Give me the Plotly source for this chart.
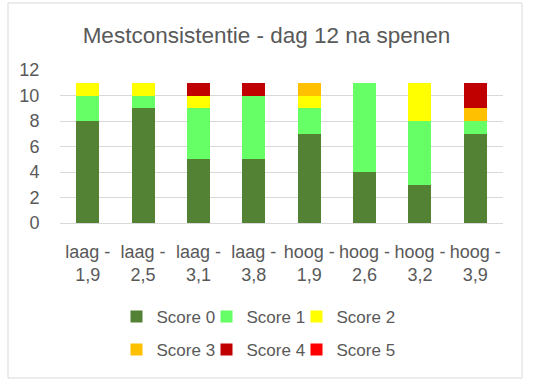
import plotly.graph_objects as go

categories = ["laag -<br>1,9", "laag -<br>2,5", "laag -<br>3,1", "laag -<br>3,8",
              "hoog -<br>1,9", "hoog -<br>2,6", "hoog -<br>3,2", "hoog -<br>3,9"]
score0 = [8, 9, 5, 5, 7, 4, 3, 7]
score1 = [2, 1, 4, 5, 2, 7, 5, 1]
score2 = [1, 1, 1, 0, 1, 0, 3, 0]
score3 = [0, 0, 0, 0, 1, 0, 0, 1]
score4 = [0, 0, 1, 1, 0, 0, 0, 2]
score5 = [0, 0, 0, 0, 0, 0, 0, 0]
series_names = ["Score 0", "Score 1", "Score 2", "Score 3", "Score 4", "Score 5"]
series_values = [score0, score1, score2, score3, score4, score5]
colors = ["#548235", "#66FF66", "#FFFF00", "#FFC000", "#C00000", "#FF0000"]

FONT = "Liberation Sans"
GREY = "#595959"

W, H = 533, 389
L, R, T, B = 60, 30, 70, 166
pw, ph = W - L - R, H - T - B

def px_x(x):
    return (x - L) / pw

def px_y(y):
    return (H - B - y) / ph

# legend text start columns (px) and row centres (px)
text_cols = [158, 248, 338]
rows = [317, 350]

fig = go.Figure()
legends = {}
for i, (name, vals, col) in enumerate(zip(series_names, series_values, colors)):
    key = "legend" if i == 0 else f"legend{i + 1}"
    fig.add_trace(go.Bar(
        x=categories, y=vals, name=name, marker=dict(color=col, line=dict(width=0)),
        legend=key, showlegend=True,
    ))
    legends[key] = dict(orientation="h", x=px_x(text_cols[i % 3] - 41.5), xanchor="left",
                        y=px_y(rows[i // 3]), yanchor="middle",
                        font=dict(size=17, color=GREY), itemclick=False,
                        bgcolor="rgba(0,0,0,0)")

fig.update_layout(
    width=W, height=H,
    margin=dict(l=L, r=R, t=T, b=B, autoexpand=False),
    showlegend=True,
    barmode="stack", bargap=0.585,
    plot_bgcolor="white", paper_bgcolor="white",
    font=dict(family=FONT, color=GREY),
    title=dict(text="Mestconsistentie - dag 12 na spenen", x=0.5, xanchor="center",
               y=1 - 35 / H, yanchor="middle", font=dict(size=22.5, color=GREY, family=FONT)),
    xaxis=dict(showgrid=False, showline=False, ticks="outside", ticklen=12,
               tickcolor="rgba(0,0,0,0)", tickfont=dict(size=18, color=GREY),
               fixedrange=True),
    yaxis=dict(range=[0, 12], dtick=2, showgrid=True, gridcolor="#D9D9D9", gridwidth=1,
               zeroline=True, zerolinecolor="#D9D9D9", zerolinewidth=1,
               tickfont=dict(size=18, color=GREY), ticks="outside", ticklen=16,
               tickcolor="rgba(0,0,0,0)", fixedrange=True),
    shapes=[dict(type="rect", xref="paper", yref="paper",
                 x0=px_x(8), x1=px_x(522), y0=px_y(378), y1=px_y(3),
                 line=dict(color="#D9D9D9", width=1), fillcolor="rgba(0,0,0,0)", layer="below")],
    **legends,
)

fig.write_html("out.html", config={"displayModeBar": False},
               post_script="document.body.style.margin='0';")
